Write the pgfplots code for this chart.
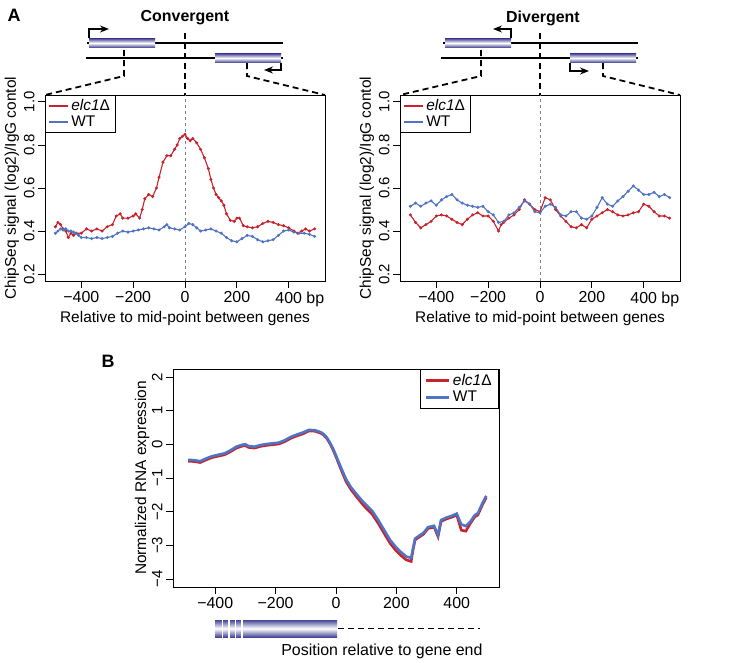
\documentclass[border=0pt]{standalone}
\usepackage{fontspec}
\setmainfont{Liberation Sans}
\usepackage{pgfplots}
\pgfplotsset{compat=1.18}
\usetikzlibrary{arrows.meta}

\definecolor{rred}{RGB}{200,35,45}
\definecolor{rblue}{RGB}{80,115,195}
\definecolor{genec}{RGB}{70,70,150}

\pgfplotsset{
  rstyle/.style={
    scale only axis,
    /pgf/number format/assume math mode=true,
    axis line style={line width=0.8bp},
    tick style={line width=0.8bp, black},
    tick align=outside,
    major tick length=7bp,
    xtick pos=bottom, ytick pos=left,
    xticklabel style={font=\fontsize{16}{18}\selectfont},
    yticklabel style={font=\fontsize{15}{17}\selectfont, rotate=90, anchor=south},
    label style={font=\fontsize{15.5}{18}\selectfont},
    legend style={font=\fontsize{15.5}{18}\selectfont, draw=black, line width=0.8bp,
      inner xsep=3bp, inner ysep=2bp, cells={anchor=west}},
    legend image code/.code={\draw[#1, line width=2bp] (0bp,0bp) -- (19bp,0bp);},
  },
  chip/.style={rstyle, width=280bp, height=186bp,
    xmin=-540, xmax=540, ymin=0.168, ymax=1.032,
    xtick={-400,-200,0,200,400}, xticklabels={−400,−200,0,200,400\rlap{ bp}},
    ytick={0.2,0.4,0.6,0.8,1.0}, yticklabels={0.2,0.4,0.6,0.8,1.0},
    xlabel={Relative to mid-point between genes},
    ylabel={ChipSeq signal (log2)/IgG contol},
    xlabel style={at={(axis description cs:0.5,-0.2)}, anchor=center},
    ylabel style={at={(axis description cs:-0.118,0.5)}, anchor=center},
    legend style={at={(0,1)}, anchor=north west},
  },
  pts/.style={line width=1.1bp, mark=*, mark size=0.9bp},
}

\begin{document}
\begin{tikzpicture}
\useasboundingbox (0bp,0bp) rectangle (746bp,-663bp);

% ---- A, convergent
\begin{axis}[chip, at={(45bp,-281bp)}, anchor=south west]
\draw[gray, dashed, line width=0.8bp] (axis cs:0,0.168) -- (axis cs:0,1.032);
\addlegendimage{rred}\addlegendentry{\textit{elc1}Δ}
\addlegendimage{rblue}\addlegendentry{WT}
\addplot[rred, pts, forget plot] table {
-500 0.42
-490 0.44
-480 0.43
-470 0.41
-460 0.40
-450 0.37
-440 0.39
-430 0.38
-420 0.39
-400 0.39
-380 0.41
-360 0.40
-340 0.41
-320 0.40
-300 0.42
-280 0.43
-265 0.47
-250 0.48
-240 0.46
-220 0.46
-200 0.47
-190 0.48
-175 0.46
-165 0.50
-155 0.55
-140 0.57
-125 0.56
-110 0.60
-100 0.65
-85 0.72
-70 0.75
-55 0.75
-40 0.78
-30 0.80
-20 0.83
-10 0.84
0 0.85
10 0.83
20 0.82
30 0.83
45 0.81
60 0.78
75 0.74
90 0.69
100 0.64
110 0.60
120 0.57
130 0.555
140 0.54
150 0.52
160 0.48
175 0.45
190 0.445
200 0.46
210 0.46
225 0.425
240 0.42
260 0.415
280 0.42
300 0.435
320 0.445
340 0.44
360 0.43
380 0.425
400 0.415
420 0.40
435 0.39
450 0.40
465 0.41
480 0.40
500 0.41
};
\addplot[rblue, pts, forget plot] table {
-500 0.39
-490 0.40
-480 0.41
-470 0.405
-460 0.41
-450 0.40
-440 0.40
-430 0.395
-420 0.39
-410 0.38
-400 0.37
-380 0.37
-360 0.365
-340 0.37
-320 0.365
-300 0.37
-280 0.375
-260 0.39
-240 0.40
-220 0.395
-200 0.40
-180 0.405
-160 0.41
-140 0.415
-120 0.41
-100 0.405
-80 0.42
-70 0.43
-60 0.415
-40 0.41
-20 0.405
0 0.42
15 0.435
30 0.43
45 0.415
60 0.40
80 0.405
100 0.41
120 0.40
140 0.39
160 0.37
180 0.355
200 0.35
220 0.365
240 0.38
260 0.375
280 0.36
300 0.35
320 0.355
340 0.36
360 0.38
380 0.40
400 0.405
420 0.395
440 0.39
460 0.39
480 0.385
500 0.375
};
\end{axis}

% ---- A, divergent
\begin{axis}[chip, at={(400bp,-281bp)}, anchor=south west]
\draw[gray, dashed, line width=0.8bp] (axis cs:0,0.168) -- (axis cs:0,1.032);
\addlegendimage{rred}\addlegendentry{\textit{elc1}Δ}
\addlegendimage{rblue}\addlegendentry{WT}
\addplot[rred, pts, forget plot] table {
-500 0.475
-480 0.44
-460 0.415
-440 0.43
-420 0.445
-400 0.47
-380 0.475
-360 0.47
-340 0.455
-320 0.44
-300 0.43
-280 0.455
-260 0.475
-240 0.485
-220 0.47
-200 0.47
-180 0.445
-160 0.40
-150 0.43
-140 0.44
-120 0.46
-100 0.475
-80 0.50
-60 0.545
-40 0.525
-20 0.50
0 0.49
20 0.555
40 0.545
60 0.50
80 0.47
100 0.445
120 0.42
140 0.415
160 0.43
180 0.415
200 0.455
220 0.47
240 0.485
260 0.50
280 0.49
300 0.475
320 0.47
340 0.475
360 0.485
380 0.49
400 0.525
420 0.515
440 0.49
460 0.47
480 0.47
500 0.46
};
\addplot[rblue, pts, forget plot] table {
-500 0.515
-480 0.53
-460 0.515
-440 0.53
-420 0.54
-400 0.52
-380 0.545
-360 0.56
-340 0.57
-320 0.545
-300 0.53
-280 0.52
-260 0.515
-240 0.51
-220 0.515
-200 0.49
-180 0.475
-160 0.44
-140 0.445
-120 0.475
-100 0.485
-80 0.51
-60 0.54
-40 0.525
-20 0.49
0 0.485
20 0.515
40 0.525
60 0.51
80 0.475
100 0.47
120 0.49
140 0.49
160 0.46
180 0.455
200 0.47
220 0.51
240 0.555
260 0.525
280 0.515
300 0.54
320 0.56
340 0.585
360 0.61
380 0.59
400 0.57
420 0.57
440 0.58
460 0.56
480 0.57
500 0.555
};
\end{axis}

% ---- B
\begin{axis}[rstyle, at={(173bp,-587bp)}, anchor=south west, width=326bp, height=218bp,
  xmin=-540, xmax=540, ymin=-4.24, ymax=2.24,
  xtick={-400,-200,0,200,400}, xticklabels={−400,−200,0,200,400},
  ytick={-4,-3,-2,-1,0,1,2}, yticklabels={−4,−3,−2,−1,0,1,2},
  ylabel={Normalized RNA expression},
  ylabel style={at={(axis description cs:-0.095,0.5)}, anchor=center},
  legend style={at={(1,1)}, anchor=north east, inner xsep=5bp, inner ysep=3bp},
  legend image code/.code={\draw[#1, line width=3bp] (0bp,0bp) -- (23bp,0bp);}]
\addplot[rred, line width=2.6bp] table {
-490 -0.50
-470 -0.51
-450 -0.54
-430 -0.46
-410 -0.39
-390 -0.35
-370 -0.31
-350 -0.22
-330 -0.11
-310 -0.05
-300 -0.04
-290 -0.09
-270 -0.11
-250 -0.06
-230 -0.03
-210 -0.01
-190 0.01
-170 0.08
-150 0.18
-130 0.25
-110 0.31
-90 0.40
-70 0.39
-50 0.33
-40 0.27
-30 0.17
-20 0.02
-10 -0.16
0 -0.37
10 -0.60
20 -0.82
33 -1.10
50 -1.35
70 -1.58
87 -1.77
100 -1.90
120 -2.08
140 -2.35
165 -2.73
180 -2.95
199 -3.16
215 -3.30
232 -3.43
249 -3.48
255 -3.15
262 -2.84
275 -2.76
290 -2.67
305 -2.50
325 -2.46
338 -2.74
348 -2.29
365 -2.22
385 -2.16
400 -2.10
415 -2.55
430 -2.58
445 -2.35
460 -2.15
470 -2.10
485 -1.80
498 -1.58
};
\addlegendentry{\textit{elc1}Δ}
\addplot[rblue, line width=2.6bp] table {
-490 -0.46
-470 -0.47
-450 -0.50
-430 -0.42
-410 -0.35
-390 -0.31
-370 -0.27
-350 -0.18
-330 -0.07
-310 -0.01
-300 0.0
-290 -0.05
-270 -0.07
-250 -0.02
-230 0.01
-210 0.03
-190 0.05
-170 0.12
-150 0.22
-130 0.29
-110 0.35
-90 0.43
-70 0.42
-50 0.36
-40 0.30
-30 0.20
-20 0.05
-10 -0.12
0 -0.33
10 -0.55
20 -0.76
33 -1.03
50 -1.28
70 -1.50
87 -1.68
100 -1.80
120 -1.98
140 -2.25
165 -2.63
180 -2.85
199 -3.06
215 -3.20
232 -3.33
249 -3.38
255 -3.10
262 -2.80
275 -2.72
290 -2.63
305 -2.46
325 -2.42
338 -2.70
348 -2.25
365 -2.18
385 -2.12
400 -2.06
415 -2.38
430 -2.43
445 -2.30
460 -2.10
470 -2.05
485 -1.75
498 -1.53
};
\addlegendentry{WT}
\end{axis}

% ---- gene sketches and labels
\begin{scope}[x=1bp, y=-1bp]
\node[font=\bfseries\fontsize{18}{20}\selectfont] at (14,15) {A};
\node[font=\bfseries\fontsize{18}{20}\selectfont] at (108,361) {B};
\node[font=\bfseries\fontsize{16}{18}\selectfont] at (185,18) {Convergent};
\node[font=\bfseries\fontsize{16}{18}\selectfont] at (543,18) {Divergent};

% convergent
\draw[line width=2.6bp] (87,43) -- (283,43);
\draw[line width=2.6bp] (86,58) -- (283,58);
\shade[top color=genec, bottom color=genec, middle color=white] (89,38.5) rectangle (155,47.5);
\shade[top color=genec, bottom color=genec, middle color=white] (215,53.5) rectangle (281,62.5);
\draw[line width=1.4bp, -{Stealth[length=9bp,width=7bp]}] (89,38) -- (89,29) -- (109,29);
\draw[line width=1.4bp, -{Stealth[length=9bp,width=7bp]}] (281,63) -- (281,70) -- (264,70);
\draw[line width=1.8bp, dash pattern=on 6bp off 4bp] (124,50) -- (124,76) -- (45,95);
\draw[line width=1.8bp, dash pattern=on 6bp off 4bp] (247,63) -- (247,76) -- (325,95);
\draw[line width=1.8bp, dash pattern=on 6bp off 4bp] (185,33) -- (185,95);

% divergent
\draw[line width=2.6bp] (443,43) -- (638,43);
\draw[line width=2.6bp] (441,58) -- (638,58);
\shade[top color=genec, bottom color=genec, middle color=white] (445,38.5) rectangle (511,47.5);
\shade[top color=genec, bottom color=genec, middle color=white] (570,53.5) rectangle (636,62.5);
\draw[line width=1.4bp, -{Stealth[length=9bp,width=7bp]}] (511,38) -- (511,29) -- (493,29);
\draw[line width=1.4bp, -{Stealth[length=9bp,width=7bp]}] (570,63) -- (570,71) -- (589,71);
\draw[line width=1.8bp, dash pattern=on 6bp off 4bp] (481,50) -- (481,76) -- (400,95);
\draw[line width=1.8bp, dash pattern=on 6bp off 4bp] (603,63) -- (603,76) -- (680,95);
\draw[line width=1.8bp, dash pattern=on 6bp off 4bp] (540,33) -- (540,95);

% gene end sketch under B
\shade[top color=genec, bottom color=genec, middle color=white] (215,620) rectangle (337,637);
\foreach \g in {222.3,229,235.3,241.7} \fill[white] (\g-0.8,619.5) rectangle (\g+0.8,637.5);
\draw[line width=1.8bp, dash pattern=on 6bp off 4bp] (338,628.5) -- (480,628.5);
\node[anchor=east, font=\fontsize{16}{18}\selectfont] at (486,651) {Position relative to gene end};
\end{scope}
\end{tikzpicture}
\end{document}
